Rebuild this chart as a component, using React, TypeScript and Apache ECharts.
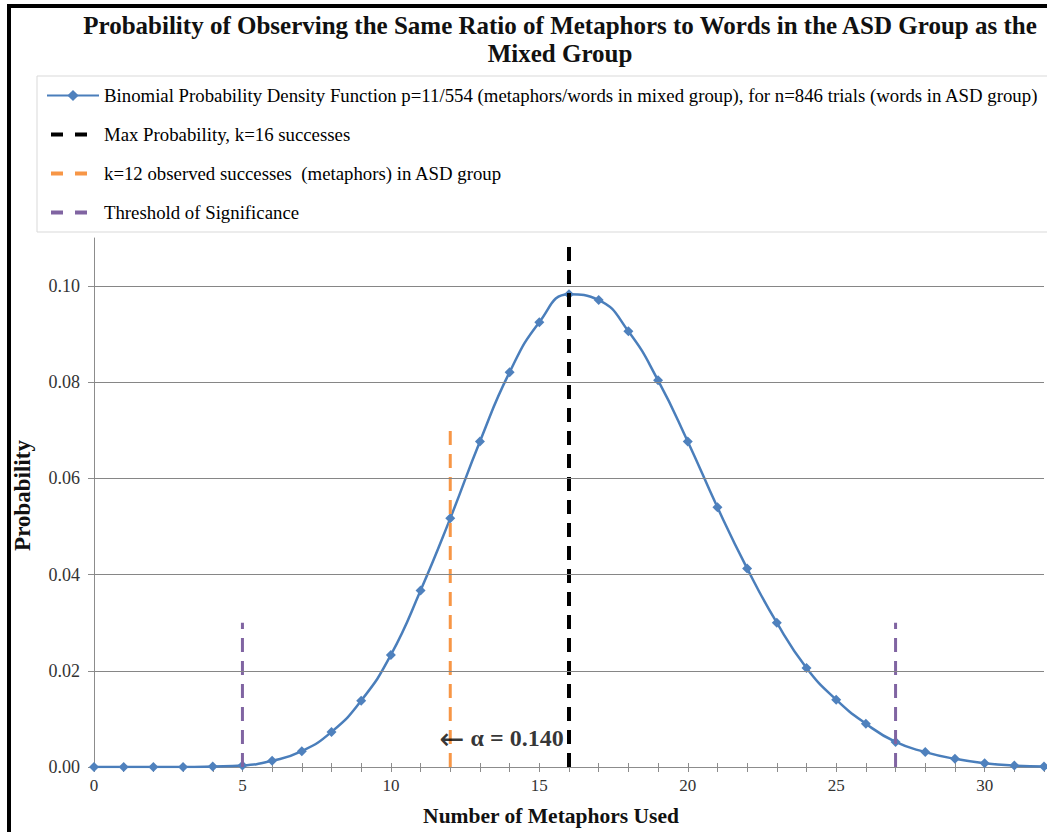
import React, { useEffect, useRef } from "react";
import * as echarts from "echarts";

// Number of metaphors (k) and binomial probabilities
const ks = [0, 1, 2, 3, 4, 5, 6, 7, 8, 9, 10, 11, 12, 13, 14, 15, 16, 17, 18, 19, 20, 21, 22, 23, 24, 25, 26, 27, 28, 29, 30, 31, 32];
const probs = [
  0.0, 0.0, 0.0, 0.0, 0.0001, 0.0003, 0.0013, 0.0033, 0.0073, 0.0138, 0.0233,
  0.0367, 0.0517, 0.0677, 0.0821, 0.0925, 0.0983, 0.0971, 0.0906, 0.0804, 0.0677,
  0.054, 0.0413, 0.03, 0.0206, 0.014, 0.009, 0.0052, 0.0031, 0.0017, 0.0008, 0.0003, 0.0001,
];

// Vertical reference lines: [x, top value]
const maxLine = [16, 0.11];
const observedLine = [12, 0.07];
const thresholdLines = [
  [5, 0.03],
  [27, 0.03],
];

const yTicks = [0, 0.02, 0.04, 0.06, 0.08, 0.1];
const yGridLines = [0.02, 0.04, 0.06, 0.08, 0.1];
const xMin = 0;
const xMax = 32;
const yMax = 0.11;

const alphaText = { x: 15.82, y: 0.006, arrow: "\u2190", text: " \u03b1 = 0.140" };

const names = [
  "Binomial Probability Density Function p=11/554 (metaphors/words in mixed group), for n=846 trials (words in ASD group)",
  "Max Probability, k=16 successes",
  "k=12 observed successes  (metaphors) in ASD group",
  "Threshold of Significance",
];

const titleLines = [
  "Probability of Observing the Same Ratio of Metaphors to Words in the ASD Group as the",
  "Mixed Group",
];

const FONT = "'Liberation Serif', 'Times New Roman', serif";
const BLUE = "#4A7EBB";
const ORANGE = "#F79646";
const PURPLE = "#8064A2";

export default function App() {
  const ref = useRef<HTMLDivElement>(null);

  useEffect(() => {
    if (!ref.current) return;
    const chart = echarts.init(ref.current, undefined, { renderer: "svg" });

    const vline = (pt: number[]) => [
      [pt[0], 0],
      [pt[0], pt[1]],
    ];

    const dashedLegend = {
      lineStyle: { type: [12, 12], dashOffset: 20, width: 4 },
      itemStyle: { color: "rgba(0,0,0,0)", opacity: 0, borderWidth: 0 },
    };

    const option: any = {
      animation: false,
      backgroundColor: "#ffffff",
      graphic: [
        { type: "rect", shape: { x: 7, y: 4, width: 1040, height: 4 }, style: { fill: "#000" } },
        { type: "rect", shape: { x: 7, y: 4, width: 4, height: 828 }, style: { fill: "#000" } },
        {
          type: "text",
          x: 560,
          y: 11,
          style: {
            text: titleLines.join("\n"),
            align: "center",
            verticalAlign: "top",
            font: `bold 25px ${FONT}`,
            lineHeight: 28,
            fill: "#111",
          },
        },
      ],
      legend: {
        orient: "vertical",
        left: 37,
        top: 76,
        padding: [10, 14, 10, 8],
        itemGap: 20,
        itemWidth: 52,
        itemHeight: 14,
        borderColor: "#d9d9d9",
        borderWidth: 1,
        textStyle: { fontFamily: FONT, fontSize: 18.8, color: "#000" },
        data: [
          { name: names[0] },
          { name: names[1], ...dashedLegend },
          { name: names[2], ...dashedLegend },
          { name: names[3], ...dashedLegend },
        ],
      },
      grid: { left: 94, right: 0, top: 238, bottom: 65, containLabel: false },
      xAxis: [
        {
          type: "value",
          min: xMin,
          max: xMax,
          interval: 1,
          name: "Number of Metaphors Used",
          nameLocation: "middle",
          nameGap: 38,
          nameTextStyle: {
            fontFamily: FONT,
            fontSize: 21.5,
            fontWeight: "bold",
            color: "#111",
            padding: [0, 36, 0, 0],
          },
          axisLine: { show: true, lineStyle: { color: "#8c8c8c", width: 1 } },
          axisTick: { show: true, length: 5, lineStyle: { color: "#8c8c8c" } },
          axisLabel: {
            fontFamily: FONT,
            fontSize: 17,
            color: "#333",
            margin: 10,
            formatter: (v: number) => (v % 5 === 0 && v < xMax ? String(v) : ""),
          },
          splitLine: { show: false },
        },
        {
          type: "value",
          min: xMin,
          max: xMax,
          interval: 1,
          position: "top",
          offset: -529,
          axisLine: { show: false },
          axisTick: { show: true, length: 4, lineStyle: { color: "#8c8c8c" } },
          axisLabel: { show: false },
          splitLine: { show: false },
        },
      ],
      yAxis: {
        type: "value",
        min: 0,
        max: yMax,
        interval: 0.02,
        name: "Probability",
        nameLocation: "middle",
        nameGap: 60,
        nameRotate: 90,
        nameTextStyle: {
          fontFamily: FONT,
          fontSize: 23,
          fontWeight: "bold",
          color: "#111",
          padding: [0, 0, 0, 14],
        },
        axisLine: { show: true, lineStyle: { color: "#8c8c8c", width: 1 } },
        axisTick: { show: true, length: 6, customValues: yTicks, lineStyle: { color: "#8c8c8c" } },
        axisLabel: {
          fontFamily: FONT,
          fontSize: 18,
          color: "#333",
          margin: 14,
          customValues: yTicks,
          formatter: (v: number) => v.toFixed(2),
        },
        splitLine: { show: false },
      },
      series: [
        {
          name: "gridlines",
          type: "line",
          data: [],
          z: 1,
          silent: true,
          markLine: {
            silent: true,
            symbol: ["none", "none"],
            label: { show: false },
            lineStyle: { color: "#868686", width: 1, type: "solid" },
            data: yGridLines.map((v) => ({ yAxis: v })),
          },
        },
        {
          name: names[0],
          type: "line",
          smooth: true,
          data: ks.map((k, i) => [k, probs[i]]),
          symbol: "diamond",
          symbolSize: 10,
          lineStyle: { color: BLUE, width: 2.5 },
          itemStyle: { color: "#4F81BD" },
          z: 3,
        },
        {
          name: names[1],
          type: "line",
          data: vline(maxLine),
          symbol: "none",
          lineStyle: { color: "#000", width: 4, type: [14, 9] },
          itemStyle: { color: "#000" },
          z: 4,
        },
        {
          name: names[2],
          type: "line",
          data: vline(observedLine),
          symbol: "none",
          lineStyle: { color: ORANGE, width: 3, type: [14, 9] },
          itemStyle: { color: ORANGE },
          z: 4,
        },
        {
          name: names[3],
          type: "line",
          data: vline(thresholdLines[0]),
          symbol: "none",
          lineStyle: { color: PURPLE, width: 3, type: [14, 9] },
          itemStyle: { color: PURPLE },
          z: 4,
        },
        {
          name: names[3],
          type: "line",
          data: vline(thresholdLines[1]),
          symbol: "none",
          lineStyle: { color: PURPLE, width: 3, type: [14, 9] },
          itemStyle: { color: PURPLE },
          z: 4,
        },
        {
          name: "alpha",
          type: "scatter",
          data: [[alphaText.x, alphaText.y]],
          symbolSize: 0,
          silent: true,
          z: 5,
          label: {
            show: true,
            position: "left",
            distance: 0,
            formatter: `{a|${alphaText.arrow}}{b|${alphaText.text}}`,
            rich: {
              a: { fontFamily: "'DejaVu Sans', sans-serif", fontSize: 30, color: "#000" },
              b: { fontFamily: FONT, fontSize: 24, fontWeight: "bold", color: "#000" },
            },
          },
        },
      ],
    };

    chart.setOption(option);
    return () => chart.dispose();
  }, []);

  return (
    <div
      ref={ref}
      style={{ position: "fixed", left: 0, top: 0, width: 1047, height: 832, background: "#fff" }}
    />
  );
}
